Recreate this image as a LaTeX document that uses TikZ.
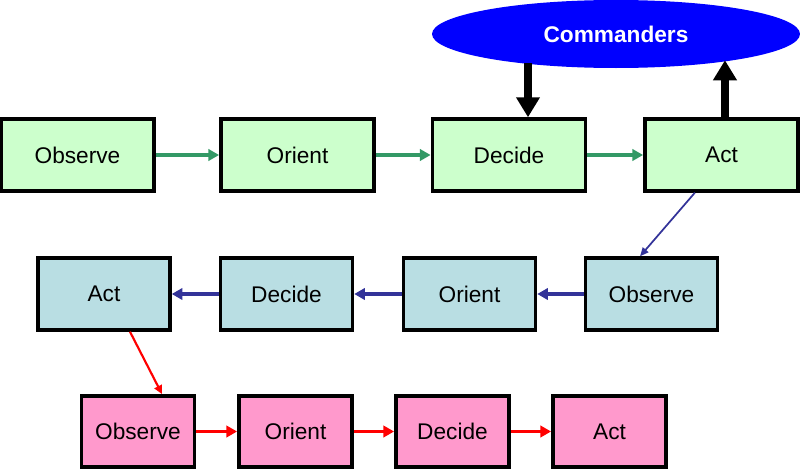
\documentclass[tikz,border=0pt]{standalone}
\usepackage{fontspec}
\setmainfont{Liberation Sans}
\usetikzlibrary{arrows.meta,shapes.geometric}
\definecolor{gfill}{HTML}{CCFFCC}
\definecolor{bfill}{HTML}{B9DEE3}
\definecolor{pfill}{HTML}{FF99CC}
\definecolor{garrow}{HTML}{339966}
\definecolor{barrow}{HTML}{333399}
\definecolor{rarrow}{HTML}{FF0000}
\definecolor{cmdblue}{HTML}{0000FF}
\tikzset{
  box/.style={draw=black, line width=2.6pt, inner sep=0pt, font=\fontsize{17}{20}\selectfont, text=black},
  boxA/.style={box, fill=gfill, minimum width=115pt, minimum height=54pt},
  boxB/.style={box, fill=bfill, minimum width=99pt, minimum height=54pt},
  boxC/.style={box, fill=pfill, minimum width=85pt, minimum height=53.5pt},
  garr/.style={draw=garrow, line width=2.6pt, -{Triangle[length=8pt,width=8.5pt]}},
  barr/.style={draw=barrow, line width=2.6pt, -{Triangle[length=8pt,width=8.5pt]}},
  bthin/.style={draw=barrow, line width=1.3pt, -{Triangle[length=6.5pt,width=5.5pt]}},
  rarr/.style={draw=rarrow, line width=2.6pt, -{Triangle[length=8pt,width=8.5pt]}},
  rthin/.style={draw=rarrow, line width=1.6pt, -{Triangle[length=6.5pt,width=6pt]}},
  blk/.style={draw=black, line width=5.5pt, -{Triangle[length=15pt,width=17pt]}},
}
\begin{document}
\begin{tikzpicture}[x=0.75pt,y=-0.75pt]
\useasboundingbox (0,0) rectangle (800,471);
% Commanders
\node[ellipse, fill=cmdblue, minimum width=276pt, minimum height=51pt, inner sep=0pt,
      font=\bfseries\fontsize{17}{20}\selectfont, text=white] (cmd) at (616,34) {Commanders};
% Row 1
\node[boxA] (o1) at (77.5,155) {Observe};
\node[boxA] (r1) at (297.5,155) {Orient};
\node[boxA] (d1) at (509,155) {Decide};
\node[boxA] (a1) at (721.5,155) {Act};
% Row 2
\node[boxB] (a2) at (104,294) {Act};
\node[boxB] (d2) at (286.5,294) {Decide};
\node[boxB] (r2) at (469.5,294) {Orient};
\node[boxB] (o2) at (651.5,294) {Observe};
% Row 3
\node[boxC] (o3) at (138,431.5) {Observe};
\node[boxC] (r3) at (295.5,431.5) {Orient};
\node[boxC] (d3) at (452.5,431.5) {Decide};
\node[boxC] (a3) at (609.5,431.5) {Act};
% Row 1 arrows
\draw[garr] (o1.east) -- (r1.west);
\draw[garr] (r1.east) -- (d1.west);
\draw[garr] (d1.east) -- (a1.west);
% Commander arrows
\draw[blk] ([xshift=14.25pt]d1.north) ++(0,-54) -- ([xshift=14.25pt]d1.north);
\draw[blk] ([xshift=2.6pt]a1.north) -- ++(0,-57);
% Row 1 -> Row 2
\draw[bthin] ([xshift=-20pt]a1.south) -- ([xshift=-8.6pt]o2.north);
% Row 2 arrows
\draw[barr] (o2.west) -- (r2.east);
\draw[barr] (r2.west) -- (d2.east);
\draw[barr] (d2.west) -- (a2.east);
% Row 2 -> Row 3
\draw[rthin] ([xshift=19.5pt]a2.south) -- ([xshift=18pt]o3.north);
% Row 3 arrows
\draw[rarr] (o3.east) -- (r3.west);
\draw[rarr] (r3.east) -- (d3.west);
\draw[rarr] (d3.east) -- (a3.west);
\end{tikzpicture}
\end{document}
